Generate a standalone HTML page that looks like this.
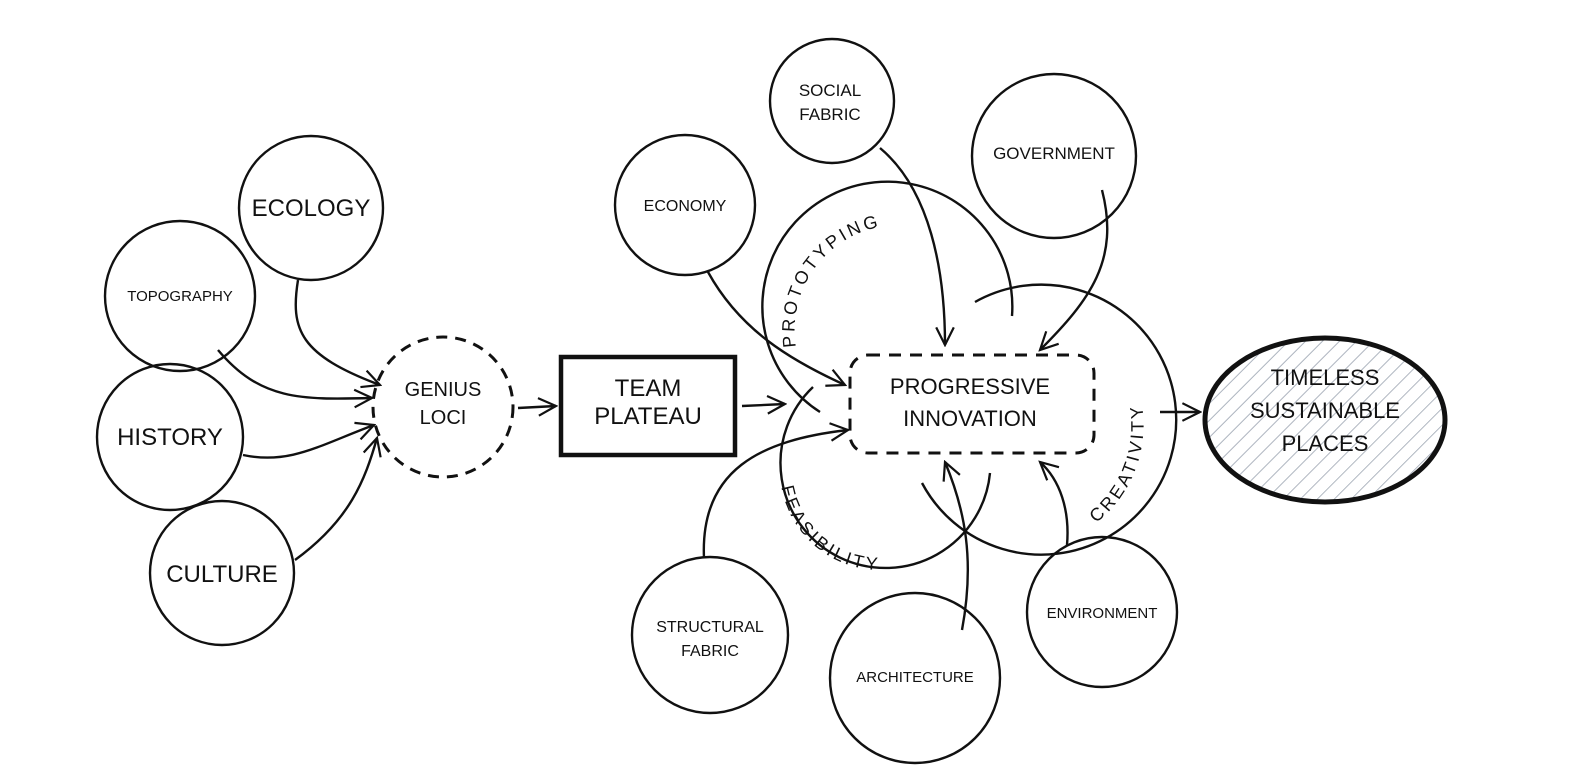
<!DOCTYPE html>
<html><head><meta charset="utf-8"><style>
html,body{margin:0;padding:0;background:#fff;}
svg{display:block;}
text{font-family:"Liberation Sans",sans-serif;fill:#111;text-anchor:middle;}
.arc{text-anchor:start;font-size:18px;letter-spacing:3px;}
</style></head><body>
<svg width="1576" height="781" viewBox="0 0 1576 781" xmlns="http://www.w3.org/2000/svg">
<defs>
<marker id="a" viewBox="0 0 20 20" refX="18" refY="10" markerWidth="22" markerHeight="22" markerUnits="userSpaceOnUse" orient="auto">
<path d="M2 2 L18 10 L2 18" fill="none" stroke="#111" stroke-width="2"/>
</marker>
<pattern id="h" width="12" height="12" patternUnits="userSpaceOnUse" patternTransform="rotate(45)">
<line x1="0" y1="0" x2="0" y2="12" stroke="#9aa3b0" stroke-width="1.6"/>
</pattern>
<path id="p1" d="M796 347 A105 105 0 0 1 900 225"/>
<path id="p2" d="M1096 523 A124 124 0 0 0 1132 373"/>
<path id="p3" d="M781.5 487 A100 100 0 0 0 914 564"/>
</defs>
<g fill="none" stroke="#111" stroke-width="2.4">
<circle cx="311" cy="208" r="72"/>
<circle cx="180" cy="296" r="75"/>
<circle cx="170" cy="437" r="73"/>
<circle cx="222" cy="573" r="72"/>
<circle cx="443" cy="407" r="70" stroke-dasharray="11 8" stroke-width="3"/>
<rect x="561" y="357" width="174" height="98" stroke-width="4.5"/>
<circle cx="685" cy="205" r="70"/>
<circle cx="832" cy="101" r="62"/>
<circle cx="1054" cy="156" r="82"/>
<circle cx="710" cy="635" r="78"/>
<circle cx="915" cy="678" r="85"/>
<circle cx="1102" cy="612" r="75"/>
<ellipse cx="1325" cy="420" rx="120" ry="82" fill="url(#h)" stroke-width="5"/>
<path d="M820 412 A125 125 0 1 1 1012 316"/>
<path d="M975 302 A135 135 0 1 1 922 483"/>
<path d="M813 387 A105 105 0 1 0 990 473"/>
<rect x="850" y="355" width="244" height="98" rx="18" stroke-dasharray="12 9" stroke-width="3"/>
<path d="M298 280 C290 330 300 355 380 385" marker-end="url(#a)"/>
<path d="M218 350 C260 400 300 400 372 398" marker-end="url(#a)"/>
<path d="M243 455 C290 465 320 445 374 425" marker-end="url(#a)"/>
<path d="M295 560 C350 520 365 480 377 438" marker-end="url(#a)"/>
<path d="M518 408 L556 406" marker-end="url(#a)"/>
<path d="M742 406 L785 404" marker-end="url(#a)"/>
<path d="M708 272 C740 330 790 360 845 385" marker-end="url(#a)"/>
<path d="M880 148 C930 190 945 270 945 345" marker-end="url(#a)"/>
<path d="M1102 190 C1120 260 1090 300 1040 350" marker-end="url(#a)"/>
<path d="M704 558 C700 470 760 440 848 430" marker-end="url(#a)"/>
<path d="M962 630 C975 560 965 510 945 462" marker-end="url(#a)"/>
<path d="M1067 545 C1070 510 1060 480 1040 462" marker-end="url(#a)"/>
<path d="M1160 412 L1200 412" marker-end="url(#a)"/>
</g>
<g font-size="20">
<text x="311" y="216" font-size="24">ECOLOGY</text>
<text x="180" y="301" font-size="15">TOPOGRAPHY</text>
<text x="170" y="445" font-size="24">HISTORY</text>
<text x="222" y="582" font-size="24">CULTURE</text>
<text x="443" y="396" font-size="20">GENIUS</text>
<text x="443" y="424" font-size="20">LOCI</text>
<text x="648" y="396" font-size="24">TEAM</text>
<text x="648" y="424" font-size="24">PLATEAU</text>
<text x="685" y="211" font-size="16">ECONOMY</text>
<text x="830" y="96" font-size="17">SOCIAL</text>
<text x="830" y="120" font-size="17">FABRIC</text>
<text x="1054" y="159" font-size="17">GOVERNMENT</text>
<text x="970" y="394" font-size="22">PROGRESSIVE</text>
<text x="970" y="426" font-size="22">INNOVATION</text>
<text x="1325" y="385" font-size="22">TIMELESS</text>
<text x="1325" y="418" font-size="22">SUSTAINABLE</text>
<text x="1325" y="451" font-size="22">PLACES</text>
<text x="710" y="632" font-size="16">STRUCTURAL</text>
<text x="710" y="656" font-size="16">FABRIC</text>
<text x="915" y="682" font-size="15">ARCHITECTURE</text>
<text x="1102" y="618" font-size="15">ENVIRONMENT</text>
<text class="arc"><textPath href="#p1">PROTOTYPING</textPath></text>
<text class="arc"><textPath href="#p2">CREATIVITY</textPath></text>
<text class="arc"><textPath href="#p3">FEASIBILITY</textPath></text>
</g>
</svg>
</body></html>
